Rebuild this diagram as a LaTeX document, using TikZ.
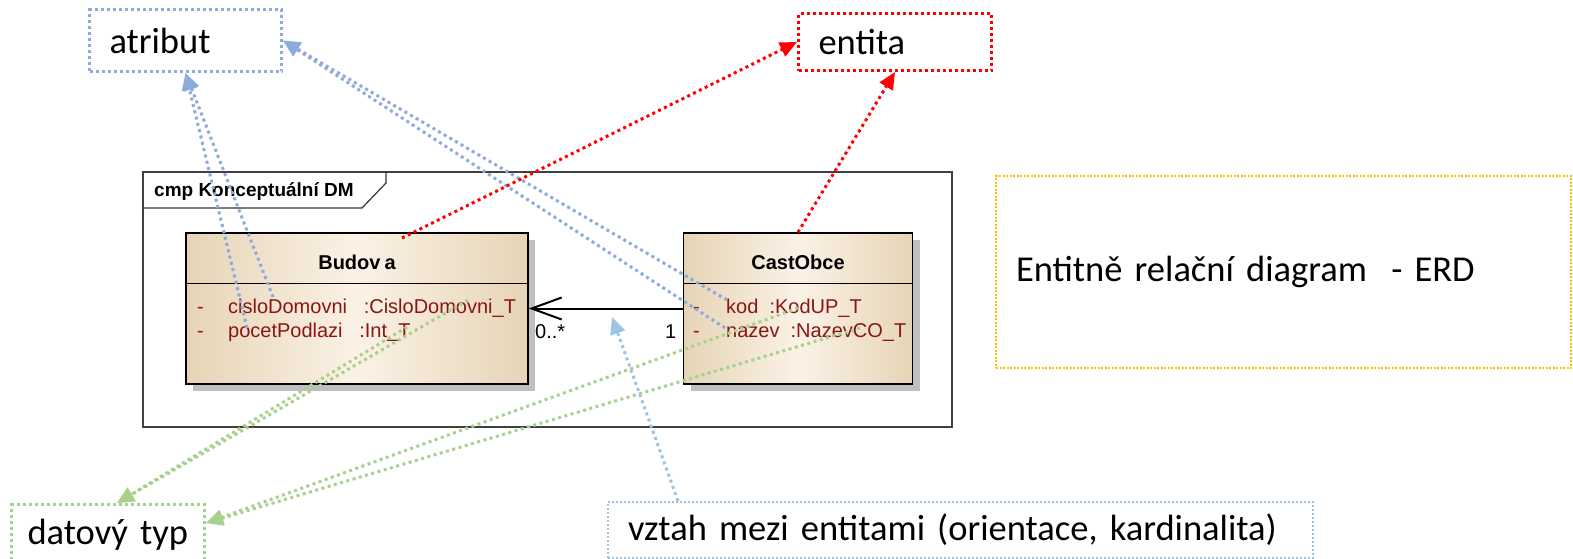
\documentclass[tikz,border=0pt]{standalone}
\usepackage{fontspec}
\usetikzlibrary{arrows.meta,positioning,calc,shadows}
\newfontfamily\notefont{Carlito}
\newfontfamily\umlfont{Liberation Sans}
\definecolor{attrblue}{HTML}{8FAADC}
\definecolor{entred}{HTML}{FF0000}
\definecolor{typegreen}{HTML}{A9D18E}
\definecolor{relblue}{HTML}{9DC3E6}
\definecolor{erdgold}{HTML}{FFC000}
\definecolor{tanedge}{HTML}{E6D4B6}
\definecolor{tanmid}{HTML}{FBF2E6}
\definecolor{attrred}{HTML}{8B1515}

\begin{document}
\begin{tikzpicture}[x=1pt,y=-1pt,
    note/.style={anchor=north west,align=left,inner xsep=20pt,inner ysep=0pt,line width=3pt,
      dash pattern=on 3pt off 3pt,font=\notefont\fontsize{36.5}{44}\selectfont},
    umlclass/.style={draw=black,line width=1.5pt,minimum height=151pt,
      left color=tanedge,right color=tanedge,middle color=tanmid,
      drop shadow={shadow xshift=7pt,shadow yshift=-7pt,fill=black!25,opacity=1}},
    classname/.style={font=\umlfont\bfseries\fontsize{20}{24}\selectfont},
    attr/.style={anchor=base west,inner sep=0pt,text=attrred,font=\umlfont\fontsize{20}{24}\selectfont},
    mult/.style={anchor=base west,inner sep=0pt,font=\umlfont\fontsize{20}{24}\selectfont},
    link/.style={line width=3pt,dash pattern=on 3pt off 3.5pt,-{Triangle[length=17pt,width=15pt]}}]
    \useasboundingbox (0,0) rectangle (1573,558);
    \fill[white] (0,0) rectangle (1573,558);

    % legend boxes
    \node[note,draw=attrblue,text width=152pt,minimum height=62pt] (atribut) at (88,8) {atribut};
    \node[note,draw=entred,text width=153pt,minimum height=57pt] (entita) at (797,12) {entita};
    \node[note,draw=typegreen,inner xsep=16pt,text width=161pt,minimum height=60pt] (datovy) at (10,503) {\mbox{datový typ}};
    \node[note,draw=relblue,line width=2pt,dash pattern=on 2pt off 2pt,text width=665pt,minimum height=56pt] (vztah) at (607,501)
      {vztah mezi entitami (orientace, kardinalita)};
    \node[note,draw=erdgold,line width=2pt,dash pattern=on 2pt off 1.5pt,text width=535pt,minimum height=192pt] (erd) at (995,175)
      {Entitně relační diagram\ \ - ERD};

    % diagram frame
    \draw[black!75,line width=1.5pt] (143,172) rectangle (952,427);
    \draw[black!80,line width=1.2pt] (143,208) -- (362,208) -- (386,183) -- (386,172);
    \node[anchor=west,inner sep=0pt,font=\umlfont\bfseries\fontsize{19}{23}\selectfont] (framelabel) at (154,191) {cmp Konceptuální DM};

    % classes
    \node[umlclass,minimum width=342pt] (budova) at (357,308.5) {};
    \node[umlclass,minimum width=229pt,right=154pt of budova] (castobce) {};
    \foreach \c in {budova,castobce}
      \draw[line width=1.5pt] ($(\c.north west)+(0,51)$) -- ($(\c.north east)+(0,51)$);
    \node[classname] (budovaname) at ($(budova.north)+(0,30)$) {Budov\kern4pt a};
    \node[classname] (castobcename) at ($(castobce.north)+(0,30)$) {CastObce};
    \node[attr] (cislo) at (197,313) {\makebox[31pt][l]{-}cisloDomovni\ \ \ :CisloDomovni\_T};
    \node[attr] (pocet) at (197,337) {\makebox[31pt][l]{-}pocetPodlazi\ \ \ :Int\_T};
    \node[attr] (kod) at (693,313) {\makebox[33pt][l]{-}kod\ \ :KodUP\_T};
    \node[attr] (nazev) at (693,337) {\makebox[33pt][l]{-}nazev\ \ :NazevCO\_T};

    % association
    \draw[line width=2pt,-{Straight Barb[length=30pt,width=22pt]}] (castobce) -- (budova);
    \node[mult] (many) at (535,338) {0..*};
    \node[mult] (one) at (665,338) {1};

    % connector ends inside the classes
    \coordinate (cisloA) at (273,297);
    \coordinate (pocetA) at (247,328);
    \coordinate (kodA) at (727,300);
    \coordinate (nazevA) at (725,328);
    \coordinate (budovaTop) at (402,238);
    \coordinate (cisloT) at (468,300);
    \coordinate (pocetT) at (407,327);
    \coordinate (kodT) at (798,308);
    \coordinate (nazevT) at (860,328);
    \coordinate (assocMid) at (612,317);
    \coordinate (typTop) at ($(datovy.north west)+(107,0)$);
    \coordinate (typSide) at ($(datovy.north east)+(0,20)$);
    \coordinate (vztahTop) at ($(vztah.north west)+(71,0)$);

    % pointers
    \draw[link,attrblue] (cisloA) -- (atribut.south);
    \draw[link,attrblue] (pocetA) -- (atribut.south);
    \draw[link,attrblue] (kodA) -- (atribut.east);
    \draw[link,attrblue] (nazevA) -- (atribut.east);
    \draw[link,entred] (budovaTop) -- (entita.west);
    \draw[link,entred] (castobce.north) -- (entita.south);
    \draw[link,typegreen] (cisloT) -- (typTop);
    \draw[link,typegreen] (pocetT) -- (typTop);
    \draw[link,typegreen] (kodT) -- (typSide);
    \draw[link,typegreen] (nazevT) -- (typSide);
    \draw[link,relblue] (vztahTop) -- (assocMid);
\end{tikzpicture}
\end{document}
